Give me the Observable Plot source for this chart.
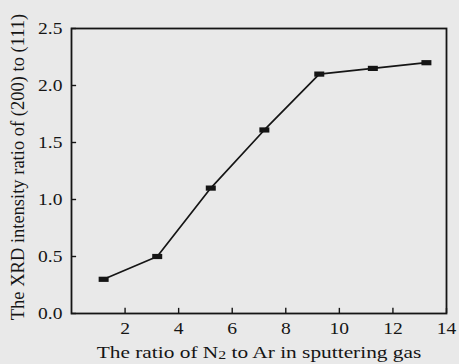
<!DOCTYPE html>
<html>
<head>
<meta charset="utf-8">
<script src="https://cdn.jsdelivr.net/npm/d3@7"></script>
<script src="https://cdn.jsdelivr.net/npm/@observablehq/plot@0.6"></script>
<style>
  html, body { margin: 0; padding: 0; background: #e9e9e9; }
</style>
</head>
<body>
<div id="chart"></div>
<script>
const n2ArRatio = [1.2, 3.2, 5.2, 7.2, 9.25, 11.25, 13.25];
const intensityRatio = [0.30, 0.50, 1.10, 1.61, 2.10, 2.15, 2.20];
const xTicks = [2, 4, 6, 8, 10, 12, 14];
const yTicks = [0, 0.5, 1.0, 1.5, 2.0, 2.5];
const xTitle = "The ratio of N2 to Ar in sputtering gas";
const yTitle = "The XRD intensity ratio of (200) to (111)";

const data = n2ArRatio.map((x, i) => ({x, y: intensityRatio[i]}));

const rectSymbol = {
  draw(ctx, size) {
    const r = Math.sqrt(size / Math.PI);
    const w = r * 1.25, h = r * 0.65;
    ctx.moveTo(-w, -h);
    ctx.lineTo(w, -h);
    ctx.lineTo(w, h);
    ctx.lineTo(-w, h);
    ctx.closePath();
  }
};

const ink = "#151515";

const chart = Plot.plot({
  width: 459,
  height: 364,
  marginLeft: 71,
  marginRight: 13,
  marginTop: 28,
  marginBottom: 51,
  style: {background: "#e9e9e9", fontFamily: "'Liberation Serif', serif", fontSize: "16px", color: ink},
  x: {domain: [0, 14]},
  y: {domain: [0, 2.5]},
  marks: [
    // inward tick marks
    Plot.ruleX(xTicks, {y1: 0, y2: 0.045, stroke: ink, strokeWidth: 1.4}),
    Plot.ruleY(yTicks, {x1: 0, x2: 0.19, stroke: ink, strokeWidth: 1.4}),
    // tick labels
    Plot.axisX({ticks: xTicks, tickSize: 0, tickPadding: 9, label: null, fontSize: 16, fill: ink, className: "stretch"}),
    Plot.axisY({ticks: yTicks, tickSize: 0, tickPadding: 9, tickFormat: d3.format(".1f"), label: null, fontSize: 16, fill: ink, className: "stretch"}),
    Plot.frame({stroke: ink, strokeWidth: 1.8}),
    Plot.line(data, {x: "x", y: "y", stroke: ink, strokeWidth: 1.7}),
    Plot.dot(data, {x: "x", y: "y", symbol: rectSymbol, r: 4, fill: ink, stroke: "none"}),
    Plot.text([xTitle], {frameAnchor: "bottom", dy: 39, lineAnchor: "middle", fontSize: 17.5, fill: ink, className: "xtitle"}),
    Plot.text([yTitle], {frameAnchor: "left", dx: -53, dy: -4, rotate: -90, textAnchor: "middle", lineAnchor: "middle", fontSize: 18.5, fill: ink})
  ]
});

// render "N2" with a smaller, slightly lowered "2"
d3.select(chart).selectAll(".xtitle text").each(function() {
  const t = d3.select(this);
  const s = t.text();
  const i = s.indexOf("N2");
  if (i < 0) return;
  t.text(null);
  t.append("tspan").text(s.slice(0, i + 1));
  t.append("tspan").attr("font-size", "13").attr("dy", "0.1em").text("2");
  t.append("tspan").attr("dy", "-0.1em").text(s.slice(i + 2));
});

document.getElementById("chart").appendChild(chart);

// the scanned original is horizontally widened: stretch the glyphs to match
d3.select(chart).selectAll(".stretch text").each(function() {
  const len = this.getComputedTextLength();
  this.setAttribute("textLength", (len * 1.22).toFixed(1));
  this.setAttribute("lengthAdjust", "spacingAndGlyphs");
});
d3.select(chart).selectAll(".xtitle text").each(function() {
  const len = this.getComputedTextLength();
  this.setAttribute("textLength", (len * 1.22).toFixed(1));
  this.setAttribute("lengthAdjust", "spacingAndGlyphs");
});
</script>
</body>
</html>
